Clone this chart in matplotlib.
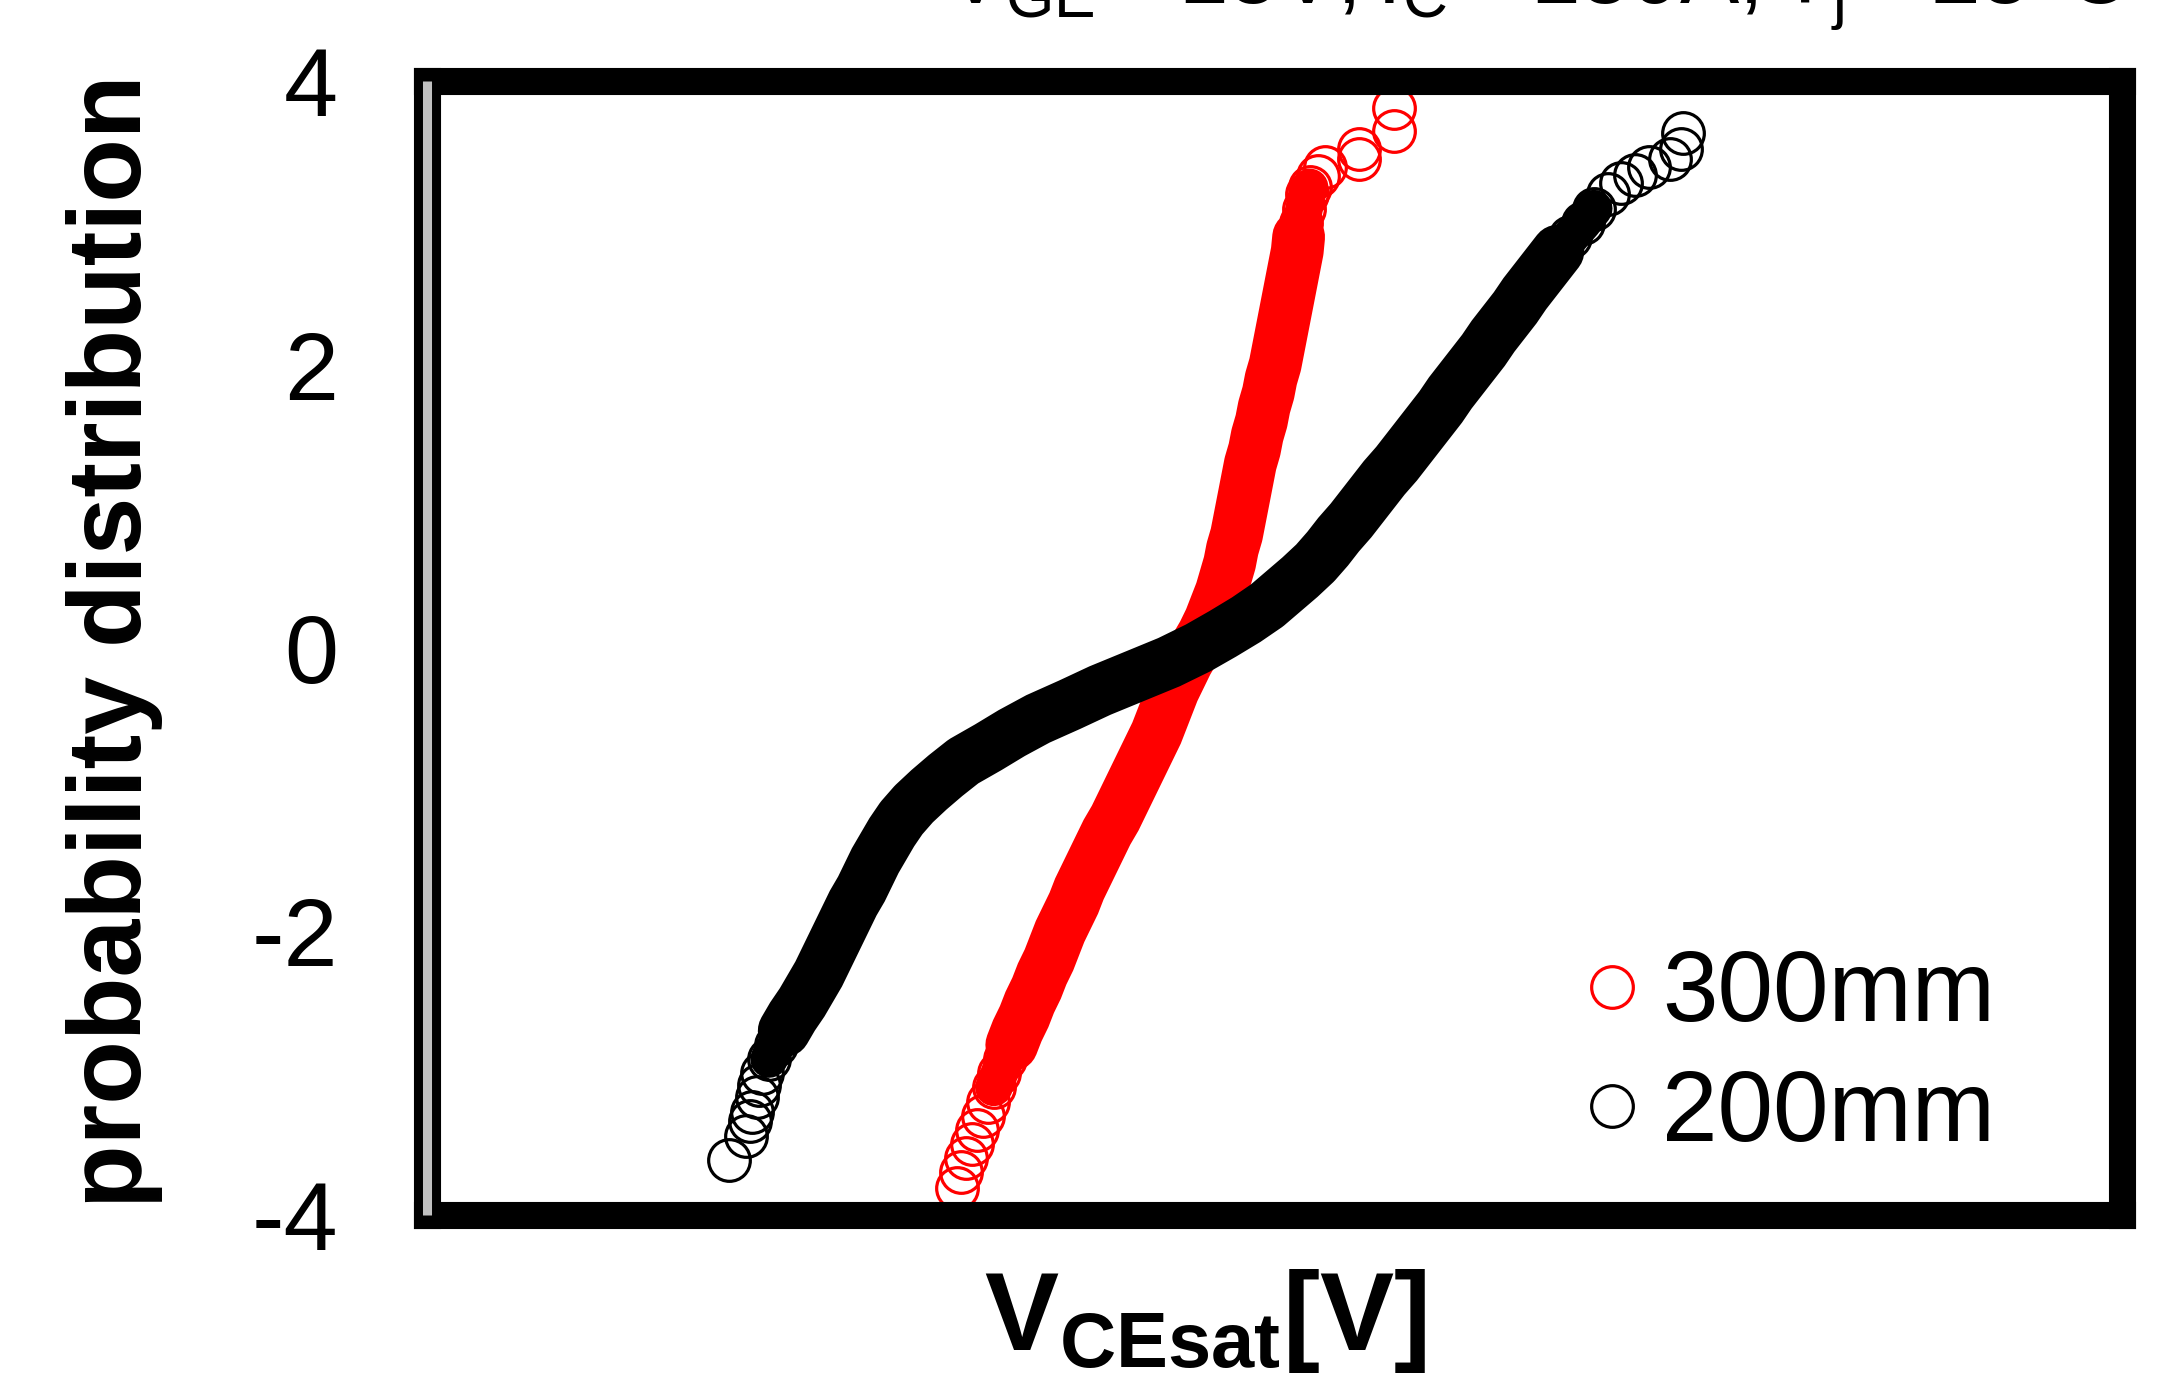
import matplotlib
matplotlib.use("Agg")
import matplotlib.pyplot as plt
import numpy as np

plt.rcParams['font.family'] = ['Liberation Sans', 'DejaVu Sans']
plt.rcParams['axes.unicode_minus'] = False
plt.rcParams['mathtext.fontset'] = 'custom'
plt.rcParams['mathtext.rm'] = 'Liberation Sans'
plt.rcParams['mathtext.it'] = 'Liberation Sans'
plt.rcParams['mathtext.bf'] = 'Liberation Sans:bold'

# ---- data: VCEsat [V] (sorted) vs normal quantile ----
z_300 = [-3.81, -3.7, -3.6, -3.5, -3.4, -3.3, -3.2, -3.1, -3.0, -2.9, -2.8, -2.7, -2.6,
         -2.5, -2.4, -2.3, -2.2, -2.1, -2.0, -1.9, -1.8, -1.7, -1.6, -1.5, -1.4, -1.3,
         -1.2, -1.1, -1.0, -0.9, -0.8, -0.7, -0.6, -0.5, -0.4, -0.3, -0.2, -0.1, 0.0,
         0.1, 0.2, 0.3, 0.4, 0.5, 0.6, 0.7, 0.8, 0.9, 1.0, 1.1, 1.2, 1.3, 1.4, 1.5, 1.6,
         1.7, 1.8, 1.9, 2.0, 2.1, 2.2, 2.3, 2.4, 2.5, 2.6, 2.7, 2.8, 2.9, 3.0, 3.1, 3.2,
         3.25, 3.33, 3.39, 3.45, 3.52, 3.65, 3.81]
v_300 = [1.284, 1.287, 1.291, 1.295, 1.299, 1.303, 1.307, 1.311, 1.315, 1.319, 1.324,
         1.328, 1.333, 1.337, 1.342, 1.346, 1.351, 1.355, 1.359, 1.364, 1.369, 1.373,
         1.378, 1.383, 1.388, 1.393, 1.399, 1.404, 1.409, 1.414, 1.419, 1.424, 1.429,
         1.433, 1.437, 1.441, 1.446, 1.451, 1.457, 1.463, 1.468, 1.472, 1.476, 1.479,
         1.482, 1.484, 1.487, 1.489, 1.491, 1.493, 1.495, 1.497, 1.500, 1.502, 1.505,
         1.507, 1.510, 1.512, 1.515, 1.517, 1.519, 1.521, 1.523, 1.525, 1.527, 1.529,
         1.531, 1.532, 1.534, 1.536, 1.538, 1.540, 1.546, 1.551, 1.576, 1.576, 1.601,
         1.601]
z_200 = [-3.61, -3.44, -3.34, -3.27, -3.17, -3.08, -3.0, -2.9, -2.8, -2.7, -2.6, -2.5,
         -2.4, -2.3, -2.2, -2.1, -2.0, -1.9, -1.8, -1.7, -1.6, -1.5, -1.4, -1.3, -1.2,
         -1.1, -1.0, -0.9, -0.8, -0.7, -0.6, -0.5, -0.4, -0.3, -0.2, -0.1, 0.0, 0.1, 0.2,
         0.3, 0.4, 0.5, 0.6, 0.7, 0.8, 0.9, 1.0, 1.1, 1.2, 1.3, 1.4, 1.5, 1.6, 1.7, 1.8,
         1.9, 2.0, 2.1, 2.2, 2.3, 2.4, 2.5, 2.6, 2.7, 2.8, 2.9, 3.0, 3.1, 3.2, 3.28, 3.34,
         3.39, 3.45, 3.52, 3.63]
v_200 = [1.119, 1.131, 1.134, 1.136, 1.139, 1.141, 1.143, 1.148, 1.153, 1.159, 1.165,
         1.172, 1.178, 1.184, 1.189, 1.194, 1.199, 1.204, 1.209, 1.215, 1.220, 1.225,
         1.231, 1.237, 1.244, 1.253, 1.264, 1.276, 1.289, 1.307, 1.324, 1.343, 1.366,
         1.388, 1.413, 1.438, 1.459, 1.477, 1.494, 1.509, 1.521, 1.533, 1.544, 1.553,
         1.561, 1.570, 1.578, 1.586, 1.594, 1.603, 1.611, 1.619, 1.627, 1.635, 1.642,
         1.650, 1.658, 1.666, 1.673, 1.681, 1.689, 1.696, 1.704, 1.712, 1.720, 1.729,
         1.738, 1.746, 1.756, 1.766, 1.776, 1.786, 1.801, 1.809, 1.811]
series_labels = ["300mm", "200mm"]
series_colors = ["#ff0000", "#000000"]
y_ticks = [-4, -2, 0, 2, 4]
x_limits = (0.900, 2.129)
y_limits = (-4, 4)

W, H = 2164, 1376
fig = plt.figure(figsize=(W / 100, H / 100), dpi=100)
ax = fig.add_axes([427 / W, 1 - 1215 / H, (2122 - 427) / W, (1215 - 81) / H])

ms = 30
mew = 2.3
# z ranges (low, high) where the many overlapping markers merge into a solid band
band_core = [(-2.85, 2.95), (-2.7, 2.8)]
band_edge = [(-3.15, 3.25), (-2.95, 3.1)]
for k, (v, z, lab, col) in enumerate(zip([v_300, v_200], [z_300, z_200],
                                         series_labels, series_colors)):
    v = np.asarray(v)
    z = np.asarray(z)
    zo = 2 + 2 * k
    m1 = (z >= band_edge[k][0]) & (z <= band_edge[k][1])
    m2 = (z >= band_core[k][0]) & (z <= band_core[k][1])
    ax.plot(v[m1], z[m1], color=col, lw=27, solid_capstyle='round',
            solid_joinstyle='round', zorder=zo)
    ax.plot(v[m2], z[m2], color=col, lw=38, solid_capstyle='round',
            solid_joinstyle='round', zorder=zo)
    ax.plot(v, z, linestyle='none', marker='o', ms=ms, mfc='none', mec=col,
            mew=mew, label=lab, zorder=zo + 1)

ax.set_xlim(*x_limits)
ax.set_ylim(*y_limits)
ax.set_yticks(y_ticks)
ax.set_yticklabels([str(t) for t in y_ticks])
ax.set_xticks([])
ax.tick_params(axis='y', length=0, pad=64, labelsize=70)
for s in ax.spines.values():
    s.set_linewidth(19.5)
    s.set_color('black')
    s.set_zorder(6)
# gray vertical axis line inside the left border
ax.plot([x_limits[0], x_limits[0]], list(y_limits), color='#c0c0c0', lw=6.5,
        solid_capstyle='butt', clip_on=False, zorder=7)

ax.legend(loc='center left',
          bbox_to_anchor=((1542 - 427) / (2122 - 427), 1 - (1055 - 81) / (1215 - 81)),
          frameon=False, fontsize=72, handlelength=0.4, handletextpad=0.3,
          labelspacing=0.25, borderpad=0, markerscale=1.0)

fig.text(115 / W, 1 - 641 / H, 'probability distribution', rotation=90, ha='center',
         va='center', fontsize=75, fontweight='bold')
fig.text(1205 / W, 1 - 1350 / H, r'$\mathbf{V}_{\mathbf{CEsat}}\mathbf{[V]}$', ha='center',
         va='baseline', fontsize=80)
fig.text(945 / W, 1 - 3 / H, r'$\mathregular{V_{GE}=15V, I_C=150A, T_j=25°C}$',
         ha='left', va='baseline', fontsize=64)

fig.savefig('out.png', dpi=100)
